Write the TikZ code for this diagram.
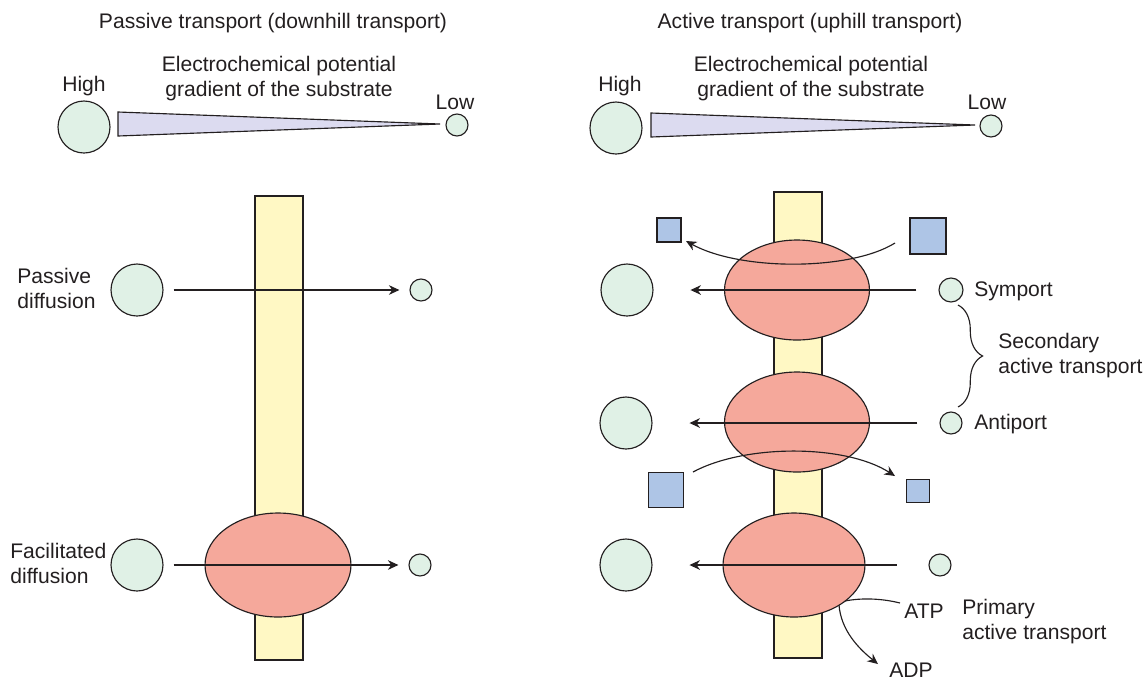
\documentclass[tikz,border=0pt]{standalone}
\usepackage{fontspec}
\setmainfont{Liberation Sans}
\usetikzlibrary{shapes.geometric,arrows.meta,decorations.pathreplacing}
\definecolor{ink}{HTML}{231F20}
\definecolor{cfill}{HTML}{E0F1E6}
\definecolor{efill}{HTML}{F5A89B}
\definecolor{mfill}{HTML}{FFF8C4}
\definecolor{sfill}{HTML}{AEC5E6}
\definecolor{wfill}{HTML}{DCDBF0}
\tikzset{
  every node/.style={text=ink, font=\fontsize{12}{14.2}\selectfont},
  line/.style={draw=ink, line width=0.65pt},
  bigc/.style={circle, line, fill=cfill, minimum size=1.04cm, inner sep=0pt},
  smallc/.style={circle, line, fill=cfill, minimum size=0.44cm, inner sep=0pt},
  midc/.style={circle, line, fill=cfill, minimum size=0.48cm, inner sep=0pt},
  prot/.style={ellipse, line, fill=efill, inner sep=0pt},
  sq/.style={rectangle, line, fill=sfill, inner sep=0pt},
  memb/.style={line, fill=mfill},
  wedge/.style={line, fill=wfill, line join=miter},
  arr/.style={draw=ink, line width=0.65pt, -{Stealth[length=6pt,width=5.5pt]}},
  plain/.style={draw=ink, line width=0.65pt},
  lbl/.style={inner sep=0pt, align=left},
}
\begin{document}
\begin{tikzpicture}[x=0.02cm, y=-0.02cm]
\useasboundingbox (0,0) rectangle (1147,681);
% ---------- titles ----------
\node (t1) at (273,23) {Passive transport (downhill transport)};
\node (t2) at (810,23) {Active transport (uphill transport)};
% ---------- gradients ----------
\node[bigc] (h1) at (84,127) {};
\node (hl1) at (84,86) {High};
\path[wedge] (118,112) -- (440,124) -- (118,136) -- cycle;
\node[lbl, align=center] (g1) at (279,79) {Electrochemical potential\\gradient of the substrate};
\node[smallc] (l1) at (457,125) {};
\node (ll1) at (455,102) {Low};

\node[bigc] (h2) at (616,128) {};
\node (hl2) at (620,86) {High};
\path[wedge] (651,113) -- (975,125) -- (651,137) -- cycle;
\node[lbl, align=center] (g2) at (811,79) {Electrochemical potential\\gradient of the substrate};
\node[smallc] (l2) at (991,126) {};
\node (ll2) at (987,102) {Low};
% ---------- membranes ----------
\path[memb] (255,196) rectangle (303,660);
\path[memb] (774,192) rectangle (822,658);
% ---------- left panel ----------
\node[lbl, anchor=west] (pd) at (17,288) {Passive\\diffusion};
\node[bigc] (pa) at (137,290) {};
\node[smallc] (pb) at (421,290) {};
\draw[arr, shorten <=5.7pt, shorten >=5.7pt] (pa) -- (pb);

\node[lbl, anchor=west] (fd) at (10,563) {Facilitated\\diffusion};
\node[prot, minimum width=2.92cm, minimum height=2.08cm] (fe) at (278,565) {};
\node[bigc] (fa) at (137,565) {};
\node[smallc] (fb) at (420,565) {};
\draw[arr, shorten <=5.7pt, shorten >=5.7pt] (fa) -- (fb);
% ---------- right panel ----------
\node[prot, minimum width=2.9cm, minimum height=2.0cm] (e1) at (797,290) {};
\node[prot, minimum width=2.9cm, minimum height=2.0cm] (e2) at (797,422) {};
\node[prot, minimum width=2.84cm, minimum height=2.08cm] (e3) at (794,565) {};

% symport
\node[sq, minimum size=0.48cm] (s1) at (669,230) {};
\node[sq, minimum size=0.72cm] (s2) at (928,236) {};
\coordinate (s2o) at (895,243);
\coordinate (s1i) at (686,241);
\draw[arr] (s2o) .. controls (850,271) and (740,271) .. (s1i);
\node[bigc] (ya) at (627,290) {};
\node[midc] (yb) at (951,290) {};
\draw[arr, shorten <=12.5pt, shorten >=21pt] (yb) -- (ya);
\node[lbl, anchor=west] (yt) at (974,291) {Symport};

% brace
\coordinate (bt) at (958,305);
\coordinate (bb) at (958,407);
\draw[plain, decorate, decoration={brace, amplitude=14pt, aspect=0.5, mirror}] (bb) -- (bt);
\node[lbl, anchor=west] (sec) at (998,356) {Secondary\\active transport};

% antiport
\node[bigc] (aa) at (626,423) {};
\node[smallc] (ab) at (951,423) {};
\draw[arr, shorten <=12.5pt, shorten >=21pt] (ab) -- (aa);
\node[lbl, anchor=west] (at) at (974,424) {Antiport};
\node[sq, minimum size=0.7cm] (s3) at (666,490) {};
\node[sq, minimum size=0.46cm] (s4) at (918,491) {};
\coordinate (s3o) at (693,472);
\coordinate (s4i) at (895,476);
\draw[arr] (s3o) .. controls (745,444) and (845,444) .. (s4i);

% primary
\node[bigc] (pra) at (626,565) {};
\node[smallc] (prb) at (940,565) {};
\draw[arr, shorten <=18pt, shorten >=21pt] (prb) -- (pra);
\node[lbl, anchor=west] (atp) at (904,611) {ATP};
\node[lbl] (adp) at (911,670) {ADP};
\node[lbl, anchor=west] (prim) at (962,622) {Primary\\active transport};
\coordinate (atpo) at (900,603);
\coordinate (ea) at (845,601);
\coordinate (eb) at (839,605);
\coordinate (adpi) at (878,664);
\draw[plain] (atpo) .. controls (880,598) and (860,598) .. (ea);
\draw[arr] (eb) .. controls (841,630) and (858,648) .. (adpi);
\end{tikzpicture}
\end{document}
